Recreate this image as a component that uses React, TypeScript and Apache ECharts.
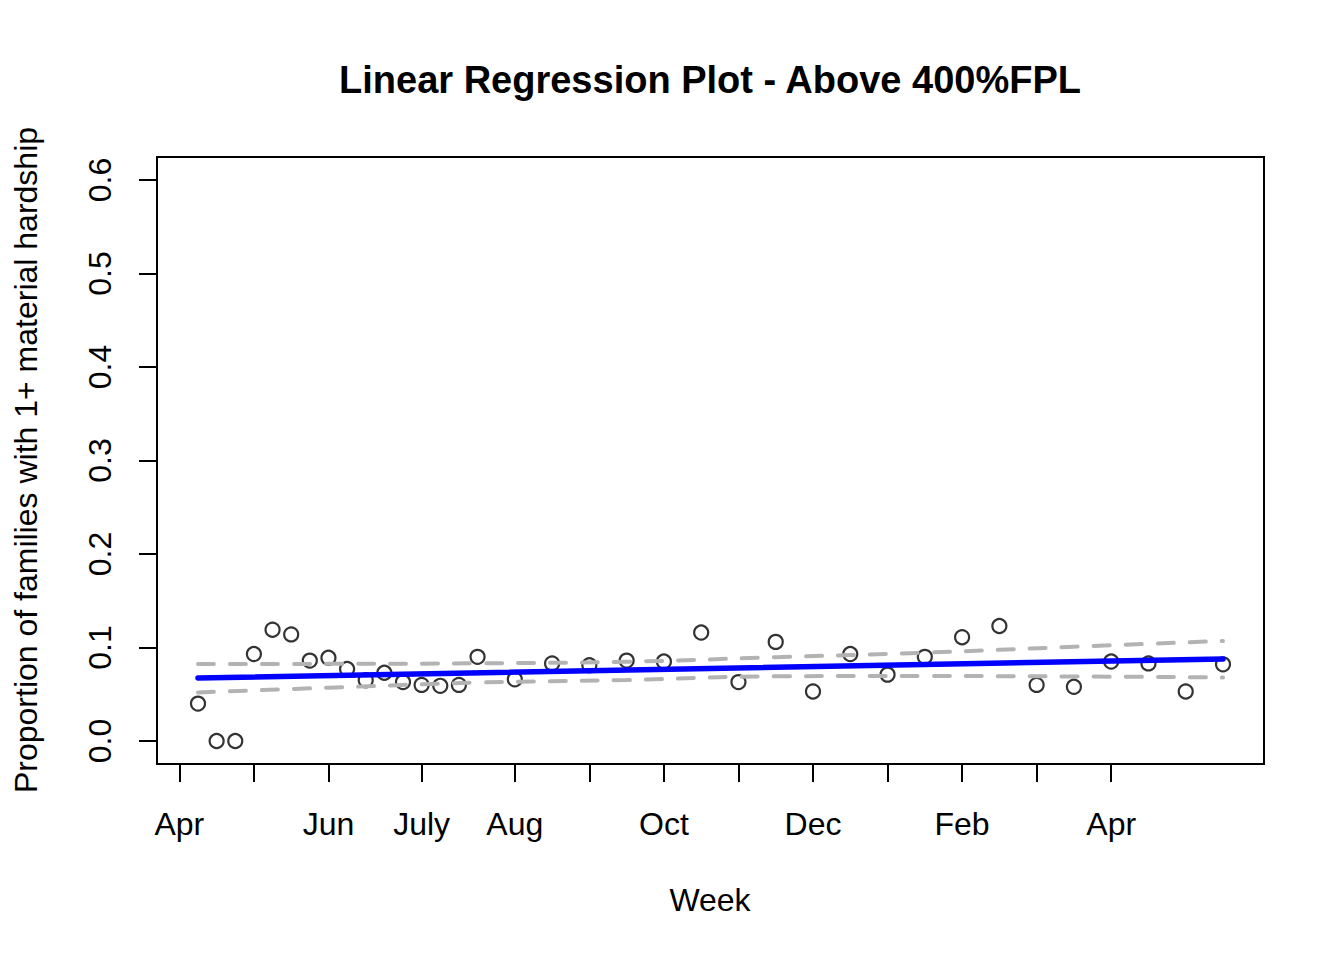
import React, { useEffect, useRef } from 'react';
import * as echarts from 'echarts';

// Survey weeks (index) and the share of families with 1+ hardship
const weekX = [1, 2, 3, 4, 5, 6, 7, 8, 9, 10, 11, 12, 13, 14, 15, 16, 18, 20, 22, 24, 26, 28, 30, 32, 34, 36, 38, 40, 42, 44, 46, 48, 50, 52, 54, 56];
const share = [0.040, 0.000, 0.000, 0.093, 0.119, 0.114, 0.086, 0.089, 0.077, 0.065, 0.073, 0.063, 0.060, 0.059, 0.060, 0.090, 0.066, 0.083, 0.081, 0.086, 0.085, 0.116, 0.063, 0.106, 0.053, 0.093, 0.071, 0.090, 0.111, 0.123, 0.060, 0.058, 0.085, 0.083, 0.053, 0.082];

// fitted line end points
const fitX = [1, 56];
const fitY = [0.0674, 0.0877];

// confidence band, read at a few weeks
const bandX = [1, 8, 16, 24, 32, 40, 48, 56];
const bandUpper = [0.0824, 0.0825, 0.0831, 0.0848, 0.0896, 0.0945, 0.1008, 0.1070];
const bandLower = [0.0520, 0.0570, 0.0625, 0.0652, 0.0692, 0.0695, 0.0690, 0.0680];

// axis ticks
const xTicks = [0, 4, 8, 13, 18, 22, 26, 30, 34, 38, 42, 46, 50];
const xLabelPos = [0, 8, 13, 18, 26, 34, 42, 50];
const xLabelText = ['Apr', 'Jun', 'July', 'Aug', 'Oct', 'Dec', 'Feb', 'Apr'];
const yTicks = [0, 0.1, 0.2, 0.3, 0.4, 0.5, 0.6];

const FONT = 'Liberation Sans, Arial, Helvetica, sans-serif';

const App: React.FC = () => {
    const chartRef = useRef<HTMLDivElement | null>(null);

    useEffect(() => {
        if (!chartRef.current) return;
        const chart = echarts.init(chartRef.current, null, { renderer: 'svg' });

        const pair = (xs: number[], ys: number[]) => xs.map((x, i) => [x, ys[i]]);

        const option = {
            animation: false,
            backgroundColor: '#fff',
            grid: {
                left: 157,
                top: 157,
                right: 80,
                bottom: 196,
                show: true,
                borderColor: '#000',
                borderWidth: 2,
                backgroundColor: 'transparent',
            },
            graphic: [
                {
                    type: 'text',
                    x: 710,
                    y: 80,
                    style: {
                        text: 'Linear Regression Plot - Above 400%FPL',
                        font: `bold 38px ${FONT}`,
                        fill: '#000',
                        textAlign: 'center',
                        textVerticalAlign: 'middle',
                    },
                },
                {
                    type: 'text',
                    x: 710,
                    y: 900,
                    style: {
                        text: 'Week',
                        font: `32px ${FONT}`,
                        fill: '#000',
                        textAlign: 'center',
                        textVerticalAlign: 'middle',
                    },
                },
                {
                    type: 'text',
                    x: 26,
                    y: 460,
                    rotation: Math.PI / 2,
                    style: {
                        text: 'Proportion of families with 1+ material hardship',
                        font: `32px ${FONT}`,
                        fill: '#000',
                        textAlign: 'center',
                        textVerticalAlign: 'middle',
                    },
                },
            ],
            xAxis: {
                type: 'value',
                min: -1.2,
                max: 58.2,
                splitLine: { show: false },
                axisLine: { show: false, onZero: false },
                axisTick: {
                    show: true,
                    length: 18,
                    customValues: xTicks,
                    lineStyle: { color: '#000', width: 2 },
                },
                axisLabel: {
                    customValues: xLabelPos,
                    margin: 60,
                    verticalAlign: 'middle',
                    color: '#000',
                    fontSize: 32,
                    fontFamily: FONT,
                    formatter: (v: number) => {
                        const i = xLabelPos.indexOf(Math.round(v));
                        return i >= 0 ? xLabelText[i] : '';
                    },
                },
            },
            yAxis: {
                type: 'value',
                min: -0.0246,
                max: 0.6246,
                splitLine: { show: false },
                axisLine: { show: false, onZero: false },
                axisTick: {
                    show: true,
                    length: 18,
                    customValues: yTicks,
                    lineStyle: { color: '#000', width: 2 },
                },
                axisLabel: {
                    customValues: yTicks,
                    rotate: 90,
                    margin: 57,
                    align: 'center',
                    verticalAlign: 'middle',
                    color: '#000',
                    fontSize: 32,
                    fontFamily: FONT,
                    formatter: (v: number) => v.toFixed(1),
                },
            },
            series: [
                {
                    name: 'Observed',
                    type: 'scatter',
                    z: 1,
                    symbol: 'circle',
                    symbolSize: 14,
                    data: pair(weekX, share),
                    itemStyle: { color: 'transparent', borderColor: '#000', borderWidth: 2.2 },
                },
                {
                    name: 'Upper',
                    type: 'line',
                    z: 2,
                    symbol: 'none',
                    smooth: 0.4,
                    data: pair(bandX, bandUpper),
                    lineStyle: { color: '#b3b3b3', width: 4, type: [16, 16], cap: 'round' },
                },
                {
                    name: 'Lower',
                    type: 'line',
                    z: 2,
                    symbol: 'none',
                    smooth: 0.4,
                    data: pair(bandX, bandLower),
                    lineStyle: { color: '#b3b3b3', width: 4, type: [16, 16], cap: 'round' },
                },
                {
                    name: 'Fit',
                    type: 'line',
                    z: 3,
                    symbol: 'none',
                    data: pair(fitX, fitY),
                    lineStyle: { color: '#0000ff', width: 5.5, cap: 'round' },
                },
            ],
        };

        chart.setOption(option);

        return () => {
            chart.dispose();
        };
    }, []);

    return (
        <div
            ref={chartRef}
            style={{ position: 'absolute', left: 0, top: 0, width: '1344px', height: '960px' }}
        />
    );
};

export default App;
